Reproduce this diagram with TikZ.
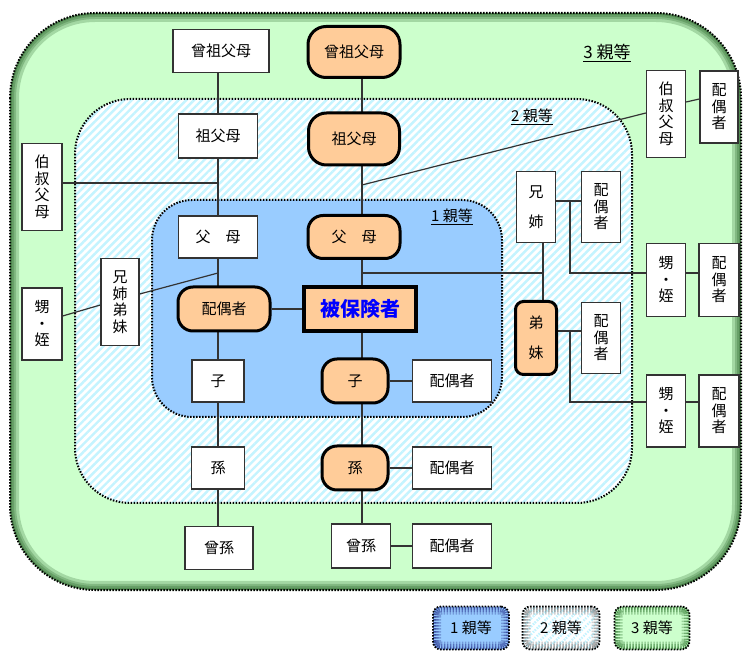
\documentclass[tikz,border=0pt]{standalone}
\usepackage{fontspec}
\setmainfont{Noto Sans CJK JP}
\usetikzlibrary{patterns.meta}
\definecolor{gthree}{HTML}{CCFFCC}
\definecolor{bone}{HTML}{99CCFF}
\definecolor{ctwo}{HTML}{C4F4FF}
\definecolor{orng}{HTML}{FFCC99}
\definecolor{lnc}{HTML}{333333}
\definecolor{blu}{HTML}{0000FF}
\pgfdeclarelayer{bg}
\pgfdeclarelayer{lines}
\pgfsetlayers{bg,lines,main}
\newcommand\hsz{\fontsize{15pt}{16.5pt}\selectfont}
\newcommand\wsz{\fontsize{15pt}{29.5pt}\selectfont}
\tikzset{
 wbox/.style={draw=lnc, line width=1.3pt, fill=white, inner sep=0pt, font=\hsz, align=center},
 obox/.style={draw=black, line width=3pt, fill=orng, inner sep=0pt, font=\hsz, align=center, rounded corners=15pt},
 conn/.style={draw=lnc, line width=1.2pt},
 region/.style={draw=black, line width=2pt, dash pattern=on 1.5pt off 1.5pt},
 hatch/.style={pattern={Lines[angle=45,distance=5.5pt,line width=2.4pt]}, pattern color=ctwo},
 lbl/.style={inner sep=1pt, font=\hsz},
 leg/.style={draw=black, line width=1.8pt, dash pattern=on 1.5pt off 1.5pt, rounded corners=8pt,
   minimum width=76pt, minimum height=43pt, inner sep=0pt, font=\hsz},
 lshadow/.style={path picture={
   \foreach \w in {16,11,6}{\draw[line width=\w pt, draw=#1, opacity=0.25, rounded corners=8pt]
     (path picture bounding box.south west) rectangle (path picture bounding box.north east);}}},
 lhatch/.style={path picture={
   \fill[hatch] (path picture bounding box.south west) rectangle (path picture bounding box.north east);
   \foreach \w in {16,11,6}{\draw[line width=\w pt, draw=#1, opacity=0.25, rounded corners=8pt]
     (path picture bounding box.south west) rectangle (path picture bounding box.north east);}}},
}
\newcommand\inshadow[2]{%
 \begin{scope}
 \clip #1;
 \foreach \w in {18,12,8,4}{\draw[line width=\w pt, draw=#2, opacity=0.2] #1;}
 \end{scope}}
\begin{document}
\begin{tikzpicture}[x=1pt,y=-1pt]
\useasboundingbox (0,0) rectangle (748,652);
% ---------- nodes ----------
% left column
\node[wbox, minimum width=96pt, minimum height=43pt] (hsfL) at (221,51) {曾祖父母};
\node[wbox, minimum width=79pt, minimum height=44pt] (sfL) at (218,136) {祖父母};
\node[wbox, minimum width=79pt, minimum height=42pt] (fbL) at (218,237) {父　母};
\node[obox, minimum width=92pt, minimum height=44pt] (spL) at (224,309) {配偶者};
\node[wbox, minimum width=52pt, minimum height=42pt] (koL) at (218,381) {子};
\node[wbox, minimum width=53pt, minimum height=42pt] (mgL) at (218,468) {孫};
\node[wbox, minimum width=68pt, minimum height=43pt] (hsL) at (219,548) {曾孫};
% center column
\node[obox, rounded corners=18pt, minimum width=92pt, minimum height=51pt] (hsfC) at (354,52) {曾祖父母};
\node[obox, rounded corners=18pt, minimum width=91pt, minimum height=52pt] (sfC) at (354,139) {祖父母};
\node[obox, minimum width=92pt, minimum height=43pt] (fbC) at (354,237) {父　母};
\node[draw=black, line width=3.5pt, fill=orng, inner sep=0pt, minimum width=112pt, minimum height=44pt,
  font=\fontsize{20pt}{22pt}\selectfont\bfseries, text=blu] (me) at (360,309) {被保険者};
\node[obox, minimum width=66pt, minimum height=44pt] (koC) at (355,381) {子};
\node[obox, minimum width=66pt, minimum height=44pt] (mgC) at (355,468) {孫};
\node[wbox, minimum width=59pt, minimum height=44pt] (hsC) at (361,546) {曾孫};
\node[wbox, minimum width=79pt, minimum height=42pt] (spKo) at (452,381) {配偶者};
\node[wbox, minimum width=79pt, minimum height=42pt] (spMg) at (452,468) {配偶者};
\node[wbox, minimum width=79pt, minimum height=44pt] (spHs) at (452,546) {配偶者};
% left side
\node[wbox, minimum width=40pt, minimum height=87pt] (ojL) at (42,187) {伯\\叔\\父\\母};
\node[wbox, minimum width=38pt, minimum height=87pt] (kyL) at (120,302) {兄\\姉\\弟\\妹};
\node[wbox, minimum width=40pt, minimum height=72pt] (oiL) at (42,324) {甥\\・\\姪};
% right side
\node[wbox, minimum width=39pt, minimum height=87pt] (ojR) at (666,114) {伯\\叔\\父\\母};
\node[wbox, minimum width=38pt, minimum height=72pt] (spOj) at (719,107) {配\\偶\\者};
\node[wbox, font=\wsz, minimum width=39pt, minimum height=71pt] (kyR) at (536,207) {兄\\姉};
\node[wbox, minimum width=39pt, minimum height=71pt] (spKy) at (601,207) {配\\偶\\者};
\node[obox, font=\wsz, rounded corners=8pt, minimum width=41pt, minimum height=73pt] (tmR) at (536,338) {弟\\妹};
\node[wbox, minimum width=39pt, minimum height=71pt] (spTm) at (601,338) {配\\偶\\者};
\node[wbox, minimum width=39pt, minimum height=73pt] (oiR1) at (666,280) {甥\\・\\姪};
\node[wbox, minimum width=40pt, minimum height=73pt] (spO1) at (719,280) {配\\偶\\者};
\node[wbox, minimum width=39pt, minimum height=72pt] (oiR2) at (666,411) {甥\\・\\姪};
\node[wbox, minimum width=40pt, minimum height=72pt] (spO2) at (719,411) {配\\偶\\者};
% labels
\node[lbl, font=\fontsize{17pt}{19pt}\selectfont] (l3) at (607,53) {\underline{3 親等}};
\node[lbl] (l2) at (532,117) {\underline{2 親等}};
\node[lbl] (l1) at (452,217) {\underline{1 親等}};
% legend
\node[leg, fill=bone, lshadow=blue!40!black] (leg1) at (471,628) {1 親等};
\node[leg, fill=white, lhatch=black!70, minimum width=77pt] (leg2) at (561,628) {2 親等};
\node[leg, fill=gthree, lshadow=green!30!black, minimum width=75pt] (leg3) at (652,628) {3 親等};
% ---------- regions ----------
\begin{pgfonlayer}{bg}
\fill[gthree, rounded corners=85pt] (10,13) rectangle (741,590);
\inshadow{[rounded corners=85pt] (10,13) rectangle (741,590)}{green!25!black}
\draw[region, rounded corners=85pt] (10,13) rectangle (741,590);
\fill[white, rounded corners=55pt] (75,99) rectangle (632,503);
\fill[hatch, rounded corners=55pt] (75,99) rectangle (632,503);
\draw[region, rounded corners=55pt] (75,99) rectangle (632,503);
\fill[bone, rounded corners=40pt] (152,200) rectangle (502,417);
\draw[region, rounded corners=40pt] (152,200) rectangle (502,417);
\end{pgfonlayer}
% ---------- connectors ----------
\begin{pgfonlayer}{lines}
\coordinate (cL) at (218,0);
\coordinate (cC) at (362,0);
\draw[conn] (hsfL.south -| cL) -- (hsL.north -| cL);
\draw[conn] (hsfC.south -| cC) -- (hsC.north -| cC);
\coordinate (jOL) at (218,183);
\draw[conn] (ojL.east |- jOL) -- (jOL);
\coordinate (jKL) at (218,273);
\draw[conn] ([yshift=8pt]kyL.east) -- (jKL);
\draw[conn] ([yshift=8pt]oiL.east) -- ([yshift=-3pt]kyL.west);
\coordinate (jOR) at (362,185);
\draw[conn] ([yshift=1pt]ojR.west) -- (jOR);
\draw[conn] ([yshift=12pt]ojR.east) -- ([yshift=8pt]spOj.west);
\draw[conn] (spL.east) -- (me.west);
\draw[conn] (koC.east) -- (spKo.west);
\draw[conn] (mgC.east) -- (spMg.west);
\draw[conn] (hsC.east) -- (spHs.west);
\coordinate (jS) at (362,273);
\coordinate (jK) at (543,273);
\draw[conn] (jS) -- (jK);
\draw[conn] (kyR.south -| jK) -- (tmR.north -| jK);
\coordinate (bK) at (570,201);
\coordinate (bK2) at (570,273);
\draw[conn] (kyR.east |- bK) -- (spKy.west |- bK);
\draw[conn] (bK) -- (bK2) -- (oiR1.west |- bK2);
\draw[conn] (oiR1.east |- bK2) -- (spO1.west |- bK2);
\coordinate (bT) at (570,331);
\coordinate (bT2) at (570,402);
\draw[conn] (tmR.east |- bT) -- (spTm.west |- bT);
\draw[conn] (bT) -- (bT2) -- (oiR2.west |- bT2);
\draw[conn] (oiR2.east |- bT2) -- (spO2.west |- bT2);
\end{pgfonlayer}
\end{tikzpicture}
\end{document}
